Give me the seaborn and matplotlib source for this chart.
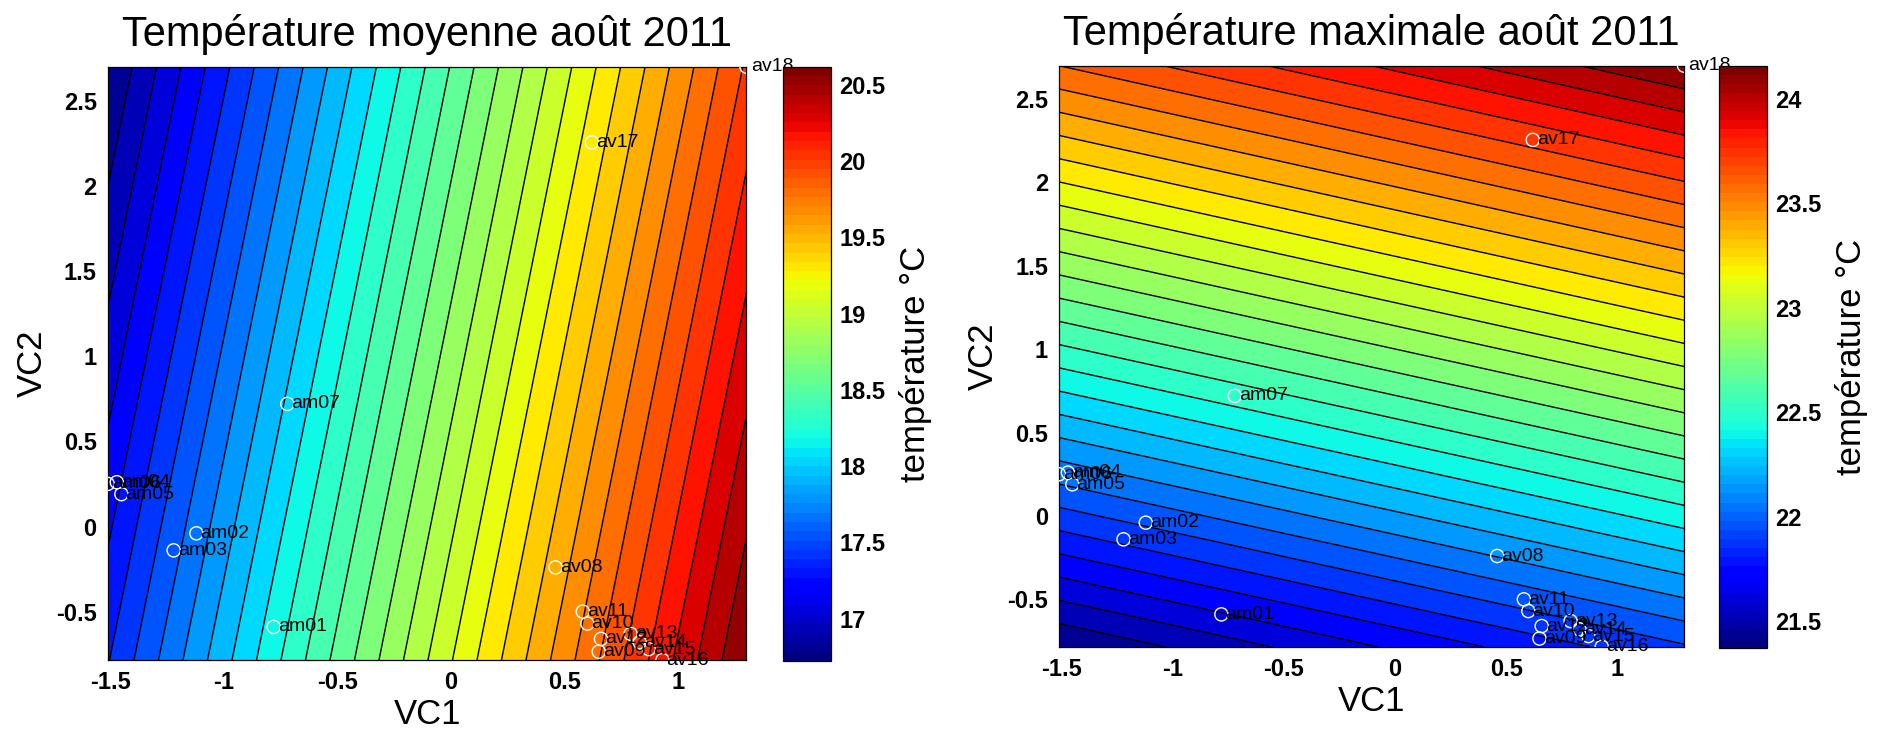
import numpy as np
import matplotlib
matplotlib.use("Agg")
import matplotlib.pyplot as plt
import seaborn as sns

# ---------------- data ----------------
stations = ["am01", "am02", "am03", "am04", "am05", "am06", "am07",
            "av08", "av09", "av10", "av11", "av12", "av13", "av14",
            "av15", "av16", "av17", "av18"]
vc1 = [-0.78, -1.12, -1.22, -1.47, -1.45, -1.51, -0.72,
       0.46, 0.65, 0.60, 0.58, 0.66, 0.79, 0.83,
       0.87, 0.93, 0.62, 1.30]
vc2 = [-0.59, -0.04, -0.14, 0.26, 0.19, 0.25, 0.72,
       -0.24, -0.735, -0.57, -0.50, -0.66, -0.63, -0.68,
       -0.72, -0.784, 2.255, 2.70]

# grid corners (VC1 / VC2) and fitted temperature at the corners
grid_vc1 = [-1.51, 1.30]
grid_vc2 = [-0.784, 2.70]
# rows: VC2 (bottom, top); cols: VC1 (left, right)
t_moy = [[17.34, 20.62],
         [16.72, 20.01]]
t_max = [[21.37, 21.90],
         [23.62, 24.16]]

titles = ["Température moyenne août 2011", "Température maximale août 2011"]
cbar_ticks_moy = [17, 17.5, 18, 18.5, 19, 19.5, 20, 20.5]
cbar_ticks_max = [21.5, 22, 22.5, 23, 23.5, 24]
x_ticks = [-1.5, -1, -0.5, 0, 0.5, 1]
y_ticks = [-0.5, 0, 0.5, 1, 1.5, 2, 2.5]
n_levels = 30

# ---------------- style ----------------
sns.set_style("white")
plt.rcParams['font.family'] = ['Liberation Sans', 'DejaVu Sans']
plt.rcParams['axes.unicode_minus'] = False
plt.rcParams['text.color'] = 'black'
plt.rcParams['axes.labelcolor'] = 'black'
plt.rcParams['xtick.color'] = 'black'
plt.rcParams['ytick.color'] = 'black'

fig = plt.figure(figsize=(18.77, 7.34), dpi=100)

ax_pos = [[0.0574, 0.1008, 0.3403, 0.8083],
          [0.5642, 0.1189, 0.3330, 0.7916]]
cax_pos = [[0.4170, 0.0990, 0.0256, 0.8101],
           [0.9160, 0.1170, 0.0253, 0.7935]]

fields = [t_moy, t_max]
cticks = [cbar_ticks_moy, cbar_ticks_max]

df_x = np.array(vc1)
df_y = np.array(vc2)

for i in range(2):
    ax = fig.add_axes(ax_pos[i])
    cax = fig.add_axes(cax_pos[i])
    Z = np.array(fields[i])
    X, Y = np.meshgrid(grid_vc1, grid_vc2)
    zmin, zmax = Z.min(), Z.max()
    levels = np.linspace(zmin, zmax, n_levels + 2)
    ax.contourf(X, Y, Z, levels=levels, cmap="jet")
    ax.contour(X, Y, Z, levels=levels[1:-1], colors="black", linewidths=1.0)

    sns.scatterplot(x=df_x, y=df_y, ax=ax, marker="o", s=90,
                    facecolor="none", edgecolor="white", linewidth=1.0,
                    zorder=5, legend=False)
    for name, x, y in zip(stations, vc1, vc2):
        ax.annotate(name, (x, y), xytext=(3, 0), textcoords="offset points",
                    ha="left", va="center", fontsize=14, color="black",
                    annotation_clip=False, zorder=6)

    ax.set_xlim(grid_vc1)
    ax.set_ylim(grid_vc2)
    ax.set_xticks(x_ticks)
    ax.set_xticklabels([f"{v:g}" for v in x_ticks])
    ax.set_yticks(y_ticks)
    ax.set_yticklabels([f"{v:g}" for v in y_ticks])
    ax.tick_params(direction="in", top=True, right=True, length=6, width=0.9,
                   labelsize=17, pad=8, colors="black")
    for lab in ax.get_xticklabels() + ax.get_yticklabels():
        lab.set_fontweight("bold")
    for sp in ax.spines.values():
        sp.set_color("black")
        sp.set_linewidth(0.9)
        sp.set_visible(True)
    ax.set_xlabel("VC1", fontsize=25, labelpad=3)
    ax.set_ylabel("VC2", fontsize=25, labelpad=5)
    ax.set_title(titles[i], fontsize=30, pad=15, color="black")

    sm = plt.cm.ScalarMappable(norm=plt.Normalize(zmin, zmax),
                               cmap=plt.get_cmap("jet", 64))
    cb = fig.colorbar(sm, cax=cax)
    cb.set_ticks(cticks[i])
    cb.set_ticklabels([f"{v:g}" for v in cticks[i]])
    cax.tick_params(direction="in", left=True, right=True, length=6,
                    width=0.9, labelsize=17, pad=6, colors="black")
    for lab in cax.get_yticklabels():
        lab.set_fontweight("bold")
    cb.outline.set_edgecolor("black")
    cb.outline.set_linewidth(0.9)
    cax.set_ylabel("température °C", fontsize=25, labelpad=10)

fig.savefig("out.png", dpi=100)
